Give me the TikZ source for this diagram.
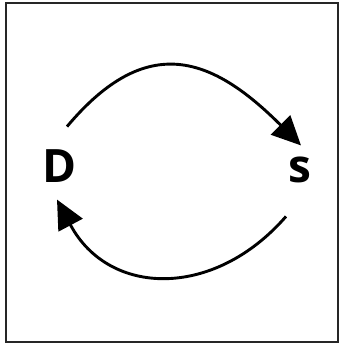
\documentclass[tikz,border=0pt]{standalone}
\usepackage{fontspec}
\setmainfont{Open Sans}
\usepackage{tikz}
\usetikzlibrary{positioning,arrows.meta,calc}
\colorlet{colMarco}{black!85}
\tikzset{
  letra/.style={font=\bfseries\fontsize{46}{46}\selectfont, inner sep=0pt, anchor=base},
  flujo/.style={line width=2.9pt, -{Triangle[length=29pt,width=27pt]}}
}

\begin{document}
\begin{tikzpicture}[x=1pt, y=1pt]
        \useasboundingbox (0,0) rectangle (340,345);
        % Marco
        \draw[colMarco, line width=2pt] (6,3) rectangle (338,341.5);

        % Letras
        \node[letra] (D) at (60,162) {D};
        \node[letra] (S) at (300,162) {s};

        % Extremos de las flechas
        \coordinate (Dsal) at ($(D.center)+(7,40)$);
        \coordinate (Dlleg) at ($(D.center)+(-3,-33)$);
        \coordinate (Slleg) at ($(S.center)+(1,25)$);
        \coordinate (Ssal) at ($(S.center)+(-14,-46)$);

        % Ciclo
        \draw[flujo] (Dsal) .. controls +(50:125) and +(135:125) .. (Slleg);
        \draw[flujo] (Ssal) .. controls +(229:110) and +(-62:110) .. (Dlleg);
    \end{tikzpicture}
\end{document}
